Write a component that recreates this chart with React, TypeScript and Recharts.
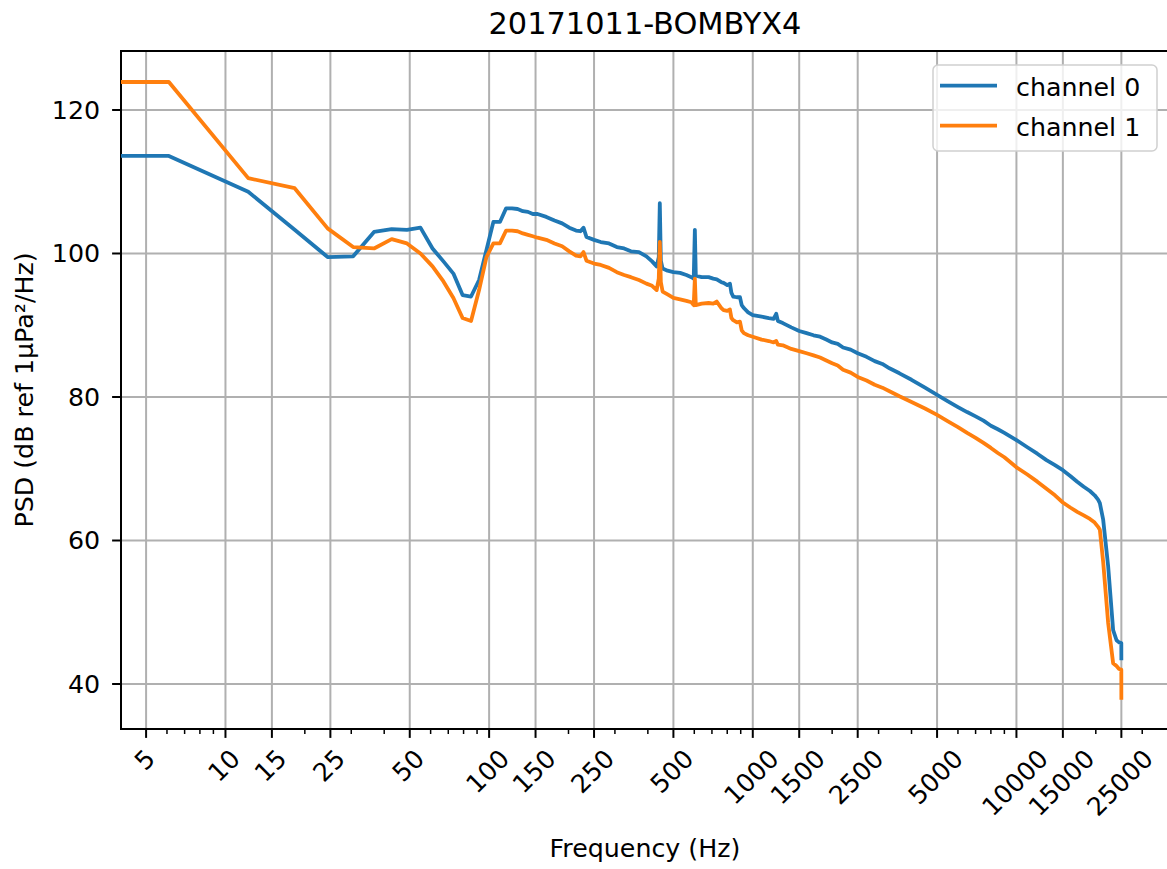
import {
  LineChart,
  Line,
  XAxis,
  YAxis,
  CartesianGrid,
  Legend,
  ReferenceArea,
} from "recharts";

// frequency bins (Hz)
const freqs = [
  4, 6.1, 12.2, 18.3, 24.4, 30.5, 36.6, 42.7, 48.8, 54.9, 61.0, 67.1, 73.2, 79.3, 85.4, 91.6, 97.7,
  103.8, 109.9, 116.0, 122.1, 128.2, 134.3, 140.4, 146.5, 152.6, 164.8, 177.0, 189.2, 201.4, 213.6,
  222, 228, 234, 250, 265, 285, 305, 325, 345, 370, 395, 415, 432, 440, 444, 448, 455, 475, 500, 530,
  560, 585, 597, 603, 608, 640, 680, 708, 730, 760, 775, 800, 819, 830, 843, 870, 894, 908, 925, 960,
  1000, 1080, 1150, 1200, 1227, 1245, 1300, 1400, 1500, 1600, 1700, 1800, 1900, 2000, 2100, 2200,
  2350, 2500, 2700, 2900, 3100, 3300, 3600, 4000, 4500, 5000, 5500, 6000, 6500, 7000, 7500, 8000,
  8500, 9000, 10000, 11000, 12000, 13000, 14000, 15000, 16000, 17000, 18000, 19000, 19800, 20400,
  20720, 21330, 22280, 23270, 23970, 24500, 24990, 25000,
];

const channel0 = [
  113.6, 113.6, 108.6, 103.3, 99.5, 99.6, 103.0, 103.4, 103.3, 103.6, 100.7, 98.9, 97.2, 94.2, 94.0, 96.3, 100.5,
  104.4, 104.4, 106.3, 106.3, 106.2, 105.9, 105.8, 105.5, 105.5, 105.1, 104.6, 104.2, 103.6, 103.2,
  103.1, 103.6, 102.3, 101.9, 101.6, 101.4, 100.9, 100.7, 100.3, 100.2, 99.6, 98.9, 98.2, 99.5, 107.0, 99.0, 97.9, 97.6, 97.4, 97.3,
  97.0, 96.7, 96.5, 103.3, 96.9, 96.7, 96.7, 96.5, 96.4, 96.0, 95.9, 95.6, 95.8, 94.5, 94.0, 93.9, 93.9, 92.8, 92.4, 91.8,
  91.4, 91.2, 91.0, 90.9, 91.6, 90.6, 90.3, 89.7, 89.2, 88.9, 88.6, 88.4, 88.0, 87.6, 87.4, 86.9,
  86.6, 86.1, 85.6, 85.0, 84.6, 84.0, 83.3, 82.4, 81.3, 80.3, 79.4, 78.6, 77.9, 77.3, 76.7, 76.0,
  75.5, 75.0, 74.0, 73.0, 72.1, 71.2, 70.5, 69.8, 69.0, 68.2, 67.5, 66.9, 66.3, 65.7,
  65.2, 62.9, 56.4, 47.5, 46.1, 45.8, 45.7, 43.3,
];

const channel1 = [
  123.9, 123.9, 110.5, 109.1, 103.5, 100.9, 100.7, 102.0, 101.4, 100.0, 98.2, 96.1, 93.8, 91.0, 90.6, 94.9, 99.5,
  101.4, 101.4, 103.2, 103.2, 103.1, 102.8, 102.6, 102.4, 102.2, 101.9, 101.4, 101.0, 100.3, 99.7,
  99.6, 100.2, 99.0, 98.6, 98.4, 98.0, 97.4, 97.0, 96.7, 96.3, 95.8, 95.5, 94.9, 96.5, 101.6, 96.0, 94.7, 94.3, 93.8, 93.6,
  93.4, 93.2, 92.8, 96.5, 92.8, 93.0, 93.1, 93.0, 93.3, 92.4, 92.1, 92.0, 92.2, 91.0, 90.7, 90.4, 90.5, 89.3, 88.9, 88.6,
  88.4, 88.0, 87.8, 87.6, 87.8, 87.3, 87.2, 86.7, 86.4, 86.1, 85.8, 85.5, 85.1, 84.7, 84.4, 83.8,
  83.4, 82.8, 82.3, 81.7, 81.3, 80.8, 80.1, 79.3, 78.4, 77.5, 76.6, 75.8, 75.0, 74.3, 73.6, 72.9,
  72.2, 71.6, 70.2, 69.2, 68.2, 67.2, 66.3, 65.3, 64.6, 64.0, 63.5, 63.0, 62.5, 61.9,
  61.5, 57.0, 48.5, 42.9, 42.5, 42.1, 42.0, 37.8,
];

const majorTicks = [5, 10, 15, 25, 50, 100, 150, 250, 500, 1000, 1500, 2500, 5000, 10000, 15000, 25000];
const minorTicks = [
  6, 7, 8, 9, 20, 30, 40, 60, 70, 80, 90, 200, 300, 400, 600, 700, 800, 900,
  2000, 3000, 4000, 6000, 7000, 8000, 9000, 20000, 30000,
];
const yTicks = [40, 60, 80, 100, 120];

const seriesNames = ["channel 0", "channel 1"];
const colors = ["#1f77b4", "#ff7f0e"];

const FONT = "'DejaVu Sans', sans-serif";
const FS = 25.3;
const X_DOMAIN = [4.016, 37900];
const Y_DOMAIN = [33.73, 128.22];

const data = freqs.map((f, i) => ({ f, ch0: channel0[i], ch1: channel1[i] }));
const allTicks = [...majorTicks, ...minorTicks].sort((a, b) => a - b);

const XTick = (props: any) => {
  const { x, y, payload } = props;
  const v = payload.value;
  if (!majorTicks.includes(v)) {
    return <line x1={x} x2={x} y1={y} y2={y + 5} stroke="#000" strokeWidth={1.5} />;
  }
  const label = String(v);
  const w = label.length * 0.636 * FS;
  const half = (w + FS) / (2 * Math.SQRT2);
  const cy = y + 17.8 + half;
  return (
    <g>
      <line x1={x} x2={x} y1={y} y2={y + 8.9} stroke="#000" strokeWidth={2} />
      <text
        transform={`translate(${x},${cy}) rotate(-45)`}
        textAnchor="middle"
        dy="0.265em"
        fontSize={FS}
        fontFamily={FONT}
        fill="#000"
      >
        {label}
      </text>
    </g>
  );
};

const LegendBox = () => (
  <svg width={226} height={88} style={{ display: "block", overflow: "visible" }}>
    <rect x={1} y={1} width={224} height={86} rx={5} fill="rgba(255,255,255,0.8)" stroke="#d0d0d0" strokeWidth={1.5} />
    {seriesNames.map((name, i) => (
      <g key={name}>
        <line x1={8} x2={65} y1={21.7 + i * 40} y2={21.7 + i * 40} stroke={colors[i]} strokeWidth={3.8} />
        <text x={84} y={32 + i * 40} fontSize={FS} fontFamily={FONT} fill="#000">
          {name}
        </text>
      </g>
    ))}
  </svg>
);

const App = () => {
  return (
    <div
      style={{
        position: "absolute",
        left: 0,
        top: 0,
        width: 1167,
        height: 869,
        overflow: "hidden",
        background: "#fff",
        fontFamily: FONT,
      }}
    >
      <LineChart width={1170} height={869} data={data} margin={{ top: 51, right: 1, bottom: 0, left: 0 }}>
        <CartesianGrid
          stroke="#b0b0b0"
          strokeWidth={2}
          verticalCoordinatesGenerator={({ xAxis }: any) => {
            const s = xAxis?.scale;
            if (!s) return [];
            return majorTicks.map((v) => (typeof s === "function" ? s(v) : s.map(v)));
          }}
        />
        <XAxis
          dataKey="f"
          type="number"
          scale="log"
          domain={X_DOMAIN}
          allowDataOverflow
          ticks={allTicks}
          interval={0}
          tick={<XTick />}
          tickLine={false}
          tickSize={0}
          tickMargin={0}
          axisLine={false}
          height={140}
        />
        <YAxis
          type="number"
          domain={Y_DOMAIN}
          allowDataOverflow
          ticks={yTicks}
          interval={0}
          width={121}
          axisLine={false}
          tickSize={8.9}
          tickMargin={12}
          tickLine={{ stroke: "#000", strokeWidth: 2 }}
          tick={{ fontSize: FS, fontFamily: FONT, fill: "#000" }}
        />
        <Line dataKey="ch0" name={seriesNames[0]} stroke={colors[0]} strokeWidth={3.8} dot={false} type="linear" strokeLinejoin="round" isAnimationActive={false} />
        <Line dataKey="ch1" name={seriesNames[1]} stroke={colors[1]} strokeWidth={3.8} dot={false} type="linear" strokeLinejoin="round" isAnimationActive={false} />
        <ReferenceArea x1={X_DOMAIN[0]} x2={X_DOMAIN[1]} y1={Y_DOMAIN[0]} y2={Y_DOMAIN[1]} fill="none" stroke="#000" strokeWidth={2} />
        <Legend
          layout="horizontal"
          align="center"
          verticalAlign="middle"
          content={<LegendBox />}
          wrapperStyle={{ position: "absolute", left: 932, top: 64, width: 226, height: 88 }}
        />
      </LineChart>
      <svg width={1167} height={869} style={{ position: "absolute", left: 0, top: 0, pointerEvents: "none" }}>
        <text x={645} y={33.5} textAnchor="middle" fontSize={30.4} fontFamily={FONT} fill="#000">
          20171011-BOMBYX4
        </text>
        <text x={645} y={857} textAnchor="middle" fontSize={FS} fontFamily={FONT} fill="#000">
          Frequency (Hz)
        </text>
        <text transform="translate(33,390) rotate(-90)" textAnchor="middle" fontSize={FS} fontFamily={FONT} fill="#000">
          PSD (dB ref 1µPa²/Hz)
        </text>
      </svg>
    </div>
  );
};

export default App;
